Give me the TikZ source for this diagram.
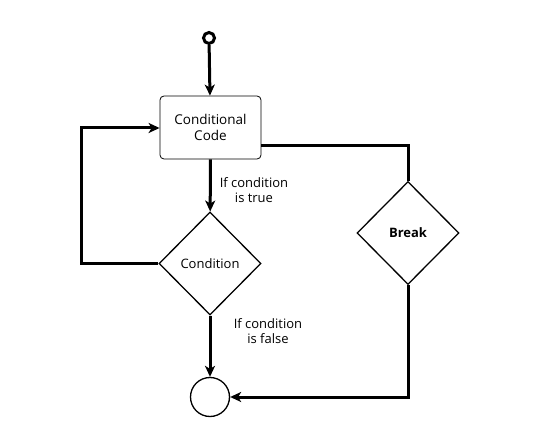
\documentclass[tikz,border=0pt]{standalone}
\usepackage{fontspec}
\setmainfont{Open Sans}
\usetikzlibrary{arrows.meta,shapes.geometric}
\begin{document}
\begin{tikzpicture}[x=1pt,y=-1pt,
  conn/.style={line width=3pt,-{Stealth[length=11pt,width=10pt,inset=3pt]}},
  line/.style={line width=3pt},
  dia/.style={diamond,draw,line width=1.3pt,minimum width=102pt,minimum height=103pt,inner sep=0pt,font=\fontsize{13}{15}\selectfont},
  lbl/.style={align=center,font=\fontsize{13}{15}\selectfont}]
\useasboundingbox (0,0) rectangle (538,446);
\node[circle,draw,line width=3pt,minimum size=11pt,inner sep=0pt] (start) at (209,38) {};
\node[draw,rounded corners=4pt,line width=0.8pt,minimum width=101pt,minimum height=63pt,align=center,font=\fontsize{13.5}{16}\selectfont] (code) at (210.5,127.5) {Conditional\\Code};
\node[dia] (cond) at (210,263.5) {Condition};
\node[dia] (brk) at (408,233) {\textbf{Break}};
\node[circle,draw,line width=1.3pt,minimum size=39pt,inner sep=0pt] (end) at (210,397) {};
\coordinate (c1) at (408,146);
\coordinate (c2) at (81,263.5);
\coordinate (c3) at (81,128);
\coordinate (c4) at (408,397);
\draw[conn] (start) -- (code);
\draw[conn] (code) -- (cond);
\draw[conn] (cond) -- (end);
\draw[line] (code.east |- c1) -- (c1) -- (brk.north);
\draw[conn] (cond.west) -- (c2) -- (c3) -- (code.west |- c3);
\draw[conn] (brk.south) -- (c4) -- (end.east);
\node[lbl] at (254,190) {If condition\\is true};
\node[lbl] at (268,331) {If condition\\is false};
\end{tikzpicture}
\end{document}
